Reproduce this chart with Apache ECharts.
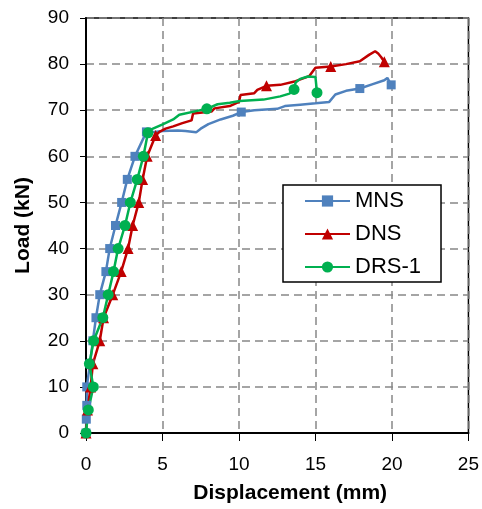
<!DOCTYPE html>
<html>
<head>
<meta charset="utf-8">
<script src="https://cdn.jsdelivr.net/npm/echarts@6/dist/echarts.min.js"></script>
<style>
html,body{margin:0;padding:0;background:#fff;}
#chart{width:482px;height:509px;}
</style>
</head>
<body>
<div id="chart"></div>
<script>
// ---- Data ----
var seriesNames = ['MNS', 'DNS', 'DRS-1'];

var mnsX = [0,0.02,0.05,0.05,0.26,0.45,0.65,0.9,1.3,1.55,1.93,2.33,2.7,3.2,3.95,4.5,5.0,6.0,6.5,7.2,7.5,8.0,8.8,9.6,10.15,11.0,12.5,13.0,14.0,15.0,15.9,16.3,17.0,17.9,18.7,19.5,19.7,19.95];
var mnsY = [0,3,6,10,15,20,25,30,35,40,45,50,55,60,65.3,65.3,65.5,65.6,65.5,65.2,66.0,67.0,68.0,68.8,69.6,70.0,70.3,70.9,71.2,71.5,71.8,73.4,74.2,74.7,75.6,76.5,77.0,75.5];
var mnsMark = [1,1,1,1,1,1,1,1,1,1,1,1,1,1,1,0,0,0,0,0,0,0,0,0,1,0,0,0,0,0,0,0,0,1,0,0,0,1];

var dnsX = [0,0.1,0.3,0.45,0.9,1.15,1.75,2.3,2.75,3.05,3.45,3.7,4.0,4.55,4.8,5.2,5.7,6.3,6.9,7.0,8.2,8.4,9.4,10.0,10.1,11.0,11.2,11.8,12.7,13.7,14.6,15.0,16.0,17.0,17.9,18.5,18.9,19.1,19.3,19.5];
var dnsY = [0,5,10,15,20,25,30,35,40,45,50,55,60,64.5,65.3,66.0,66.5,67.2,67.8,69.3,69.7,70.4,70.9,71.8,73.3,73.7,74.4,75.3,75.5,76.3,77.4,79.2,79.5,80.0,80.6,82.0,82.8,82.3,81.5,80.5];
var dnsMark = [1,1,1,1,1,1,1,1,1,1,1,1,1,1,0,0,0,0,0,0,0,0,0,0,0,0,0,1,0,0,0,0,1,0,0,0,0,0,0,1];

var drsX = [0,0.15,0.48,0.22,0.5,1.1,1.45,1.8,2.1,2.55,2.9,3.35,3.75,4.05,4.3,5.05,5.7,6.1,7.2,7.9,8.6,9.4,10.05,11.6,12.7,13.3,13.6,13.7,14.0,14.5,15.0,15.05,15.1];
var drsY = [0,5,10,15,20,25,30,35,40,45,50,55,60,65.1,65.9,67.0,68.0,69.0,69.8,70.3,71.3,71.6,72.0,72.3,73.0,73.6,74.5,76.0,76.8,77.3,77.2,75.5,73.8];
var drsMark = [1,1,1,1,1,1,1,1,1,1,1,1,1,1,0,0,0,0,0,1,0,0,0,0,0,0,1,0,0,0,0,0,1];

var xTicks = [0,5,10,15,20,25];
var yTicks = [0,10,20,30,40,50,60,70,80,90];

// ---- Build ----
function build(xs, ys, marks) {
  var out = [];
  for (var i = 0; i < xs.length; i++) {
    var item = { value: [xs[i], ys[i]] };
    if (!marks[i]) item.symbol = 'none';
    out.push(item);
  }
  return out;
}

var font = '"Liberation Sans", Arial, sans-serif';
var colors = ['#4F81BD', '#C00000', '#00B050'];
var symbols = ['rect', 'triangle', 'circle'];
var sizes = [9, 11, 11];
var datasets = [build(mnsX, mnsY, mnsMark), build(dnsX, dnsY, dnsMark), build(drsX, drsY, drsMark)];

var series = seriesNames.map(function (n, i) {
  return {
    name: n,
    type: 'line',
    data: datasets[i],
    symbol: symbols[i],
    symbolSize: sizes[i],
    showSymbol: true,
    color: colors[i],
    lineStyle: { width: 2.5, color: colors[i] },
    itemStyle: { color: colors[i] },
    animation: false
  };
});

var chart = echarts.init(document.getElementById('chart'), null, { renderer: 'canvas' });
chart.setOption({
  backgroundColor: '#fff',
  animation: false,
  textStyle: { fontFamily: font },
  grid: { left: 86, right: 13, top: 18, bottom: 76, show: true, borderColor: '#000', borderWidth: 1.5, backgroundColor: 'transparent' },
  legend: {
    orient: 'vertical',
    left: 283, top: 185,
    data: seriesNames,
    itemWidth: 45, itemHeight: 14, itemGap: 11,
    backgroundColor: '#fff',
    borderColor: '#000', borderWidth: 1.5,
    padding: [5, 20, 4, 21],
    textStyle: { fontFamily: font, fontSize: 22, color: '#000' }
  },
  xAxis: {
    type: 'value', min: xTicks[0], max: xTicks[xTicks.length - 1], interval: 5,
    name: 'Displacement (mm)', nameLocation: 'middle', nameGap: 50,
    nameTextStyle: { fontFamily: font, fontSize: 21, fontWeight: 'bold', color: '#000', padding: [0, 0, 0, 26] },
    axisLine: { show: true, lineStyle: { color: '#000', width: 2 } },
    axisTick: { show: true, inside: false, length: 8, lineStyle: { color: '#000', width: 1 } },
    axisLabel: { fontFamily: font, fontSize: 19, color: '#000', margin: 22 },
    splitLine: { show: true, lineStyle: { color: '#888', width: 1.5, type: [8, 5] } }
  },
  yAxis: {
    type: 'value', min: yTicks[0], max: yTicks[yTicks.length - 1], interval: 10,
    name: 'Load (kN)', nameLocation: 'middle', nameGap: 52, nameRotate: 90,
    nameTextStyle: { fontFamily: font, fontSize: 21, fontWeight: 'bold', color: '#000' },
    axisLine: { show: true, lineStyle: { color: '#000', width: 2 } },
    axisTick: { show: true, inside: false, length: 6, lineStyle: { color: '#000', width: 1 } },
    axisLabel: { fontFamily: font, fontSize: 19, color: '#000', margin: 17 },
    splitLine: { show: true, lineStyle: { color: '#888', width: 1.5, type: [8, 5] } }
  },
  series: series
});
</script>
</body>
</html>
